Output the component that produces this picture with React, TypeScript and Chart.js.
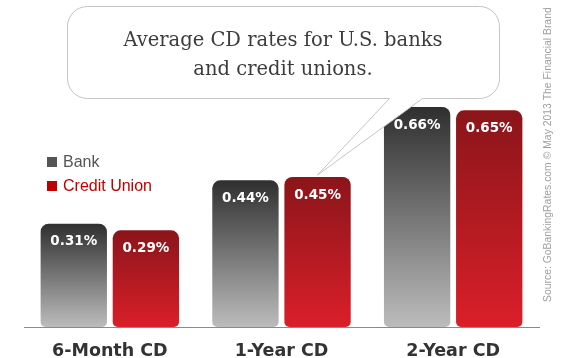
import { useEffect, useRef } from "react";
import { Chart, registerables } from "chart.js";

Chart.register(...registerables);

const categories = ["6-Month CD", "1-Year CD", "2-Year CD"];
const bankRates = [0.31, 0.44, 0.66];
const creditUnionRates = [0.29, 0.45, 0.65];
const seriesNames = ["Bank", "Credit Union"];
const calloutLines = ["Average CD rates for U.S. banks", "and credit unions."];
const sourceNote = "Source: GoBankingRates.com \u00A9 May 2013 The Financial Brand";

const BANK_TOP = "#2f2f2f";
const BANK_BOTTOM = "#bcbcbc";
const CU_TOP = "#8a151a";
const CU_BOTTOM = "#da1f29";
const LEGEND_COLORS = ["#555555", "#c00000"];

function barGradient(top: string, bottom: string) {
  return (c: any) => {
    const chart = c.chart;
    const y = chart.scales && chart.scales.y;
    if (!y || c.type !== "data") return bottom;
    const v = typeof c.raw === "number" ? c.raw : 0;
    const y0 = y.getPixelForValue(v);
    const y1 = y.getPixelForValue(0);
    if (!isFinite(y0) || !isFinite(y1) || y0 === y1) return bottom;
    const g = chart.ctx.createLinearGradient(0, y0, 0, y1);
    g.addColorStop(0, top);
    g.addColorStop(1, bottom);
    return g;
  };
}

function roundRectPath(ctx: CanvasRenderingContext2D, x0: number, y0: number, x1: number, y1: number, r: number, tail: { a: number; b: number; tx: number; ty: number }) {
  ctx.beginPath();
  ctx.moveTo(x0 + r, y0);
  ctx.lineTo(x1 - r, y0);
  ctx.arcTo(x1, y0, x1, y0 + r, r);
  ctx.lineTo(x1, y1 - r);
  ctx.arcTo(x1, y1, x1 - r, y1, r);
  ctx.lineTo(tail.b, y1);
  ctx.lineTo(tail.tx, tail.ty);
  ctx.lineTo(tail.a, y1);
  ctx.lineTo(x0 + r, y1);
  ctx.arcTo(x0, y1, x0, y1 - r, r);
  ctx.lineTo(x0, y0 + r);
  ctx.arcTo(x0, y0, x0 + r, y0, r);
  ctx.closePath();
}

const overlayPlugin = {
  id: "overlay",
  afterDatasetsDraw(chart: any) {
    const ctx: CanvasRenderingContext2D = chart.ctx;
    ctx.save();
    ctx.font = 'bold 13.5px "DejaVu Sans"';
    ctx.fillStyle = "#ffffff";
    ctx.textAlign = "center";
    ctx.textBaseline = "middle";
    chart.data.datasets.forEach((ds: any, i: number) => {
      const meta = chart.getDatasetMeta(i);
      meta.data.forEach((el: any, j: number) => {
        ctx.fillText(Number(ds.data[j]).toFixed(2) + "%", el.x, el.y + 18);
      });
    });
    ctx.restore();
  },
  afterDraw(chart: any) {
    const ctx: CanvasRenderingContext2D = chart.ctx;
    ctx.save();

    // Legend
    ctx.textAlign = "left";
    ctx.textBaseline = "middle";
    ctx.font = '16px "Liberation Sans", Arial, sans-serif';
    chart.data.datasets.forEach((ds: any, i: number) => {
      const cy = 162 + i * 24;
      ctx.fillStyle = LEGEND_COLORS[i];
      ctx.fillRect(47, cy - 5, 10, 10);
      ctx.fillText(ds.label, 63, cy + 1);
    });

    // Callout bubble pointing at the 1-Year Credit Union bar
    const target = chart.getDatasetMeta(1).data[1];
    const tx = target ? target.x : 316;
    const ty = target ? target.y - 2 : 176;
    roundRectPath(ctx, 67.5, 6.5, 499.5, 98.5, 20, { a: 389.5, b: 422.5, tx, ty });
    ctx.fillStyle = "#ffffff";
    ctx.fill();
    ctx.strokeStyle = "#c4c4c4";
    ctx.lineWidth = 1;
    ctx.stroke();

    ctx.fillStyle = "#3c3c3c";
    ctx.textAlign = "center";
    ctx.textBaseline = "alphabetic";
    ctx.font = '19.5px "DejaVu Serif", serif';
    ctx.fillText(calloutLines[0], 283, 46);
    ctx.fillText(calloutLines[1], 283, 75);

    // Vertical source note
    ctx.font = '10px "Liberation Sans", Arial, sans-serif';
    const w = ctx.measureText(sourceNote).width;
    const size = (10 * 295) / w;
    ctx.font = `${size}px "Liberation Sans", Arial, sans-serif`;
    ctx.translate(548, 302);
    ctx.rotate(-Math.PI / 2);
    ctx.fillStyle = "#a0a0a0";
    ctx.textAlign = "left";
    ctx.textBaseline = "middle";
    ctx.fillText(sourceNote, 0, 0);

    ctx.restore();
  },
};

export default function App() {
  const canvasRef = useRef<HTMLCanvasElement | null>(null);

  useEffect(() => {
    const canvas = canvasRef.current;
    if (!canvas) return;
    const chart = new Chart(canvas, {
      type: "bar",
      data: {
        labels: categories,
        datasets: [
          {
            label: seriesNames[0],
            data: bankRates,
            backgroundColor: barGradient(BANK_TOP, BANK_BOTTOM) as any,
            borderRadius: { topLeft: 8, topRight: 8, bottomLeft: 5, bottomRight: 5 },
            borderSkipped: false,
            categoryPercentage: 0.84,
            barPercentage: 0.92,
          },
          {
            label: seriesNames[1],
            data: creditUnionRates,
            backgroundColor: barGradient(CU_TOP, CU_BOTTOM) as any,
            borderRadius: { topLeft: 8, topRight: 8, bottomLeft: 5, bottomRight: 5 },
            borderSkipped: false,
            categoryPercentage: 0.84,
            barPercentage: 0.92,
          },
        ],
      },
      options: {
        responsive: false,
        animation: false,
        layout: { padding: { left: 24, right: 26, top: 27, bottom: 0 } },
        plugins: {
          legend: { display: false },
          tooltip: { enabled: false },
        },
        scales: {
          x: {
            grid: { display: false },
            border: { display: true, color: "#8a8a8a", width: 1 },
            ticks: {
              color: "#333333",
              font: { family: '"DejaVu Sans"', size: 17.5, weight: "bold" },
              padding: 6,
              maxRotation: 0,
            },
            afterFit: (scale: any) => {
              scale.height = 31;
            },
          },
          y: {
            display: false,
            min: 0,
            max: 0.9,
          },
        },
      },
      plugins: [overlayPlugin],
    });
    return () => chart.destroy();
  }, []);

  return (
    <div style={{ position: "fixed", left: 0, top: 0, width: 565, height: 358, background: "#ffffff" }}>
      <canvas ref={canvasRef} width={565} height={358} style={{ display: "block" }} />
    </div>
  );
}
